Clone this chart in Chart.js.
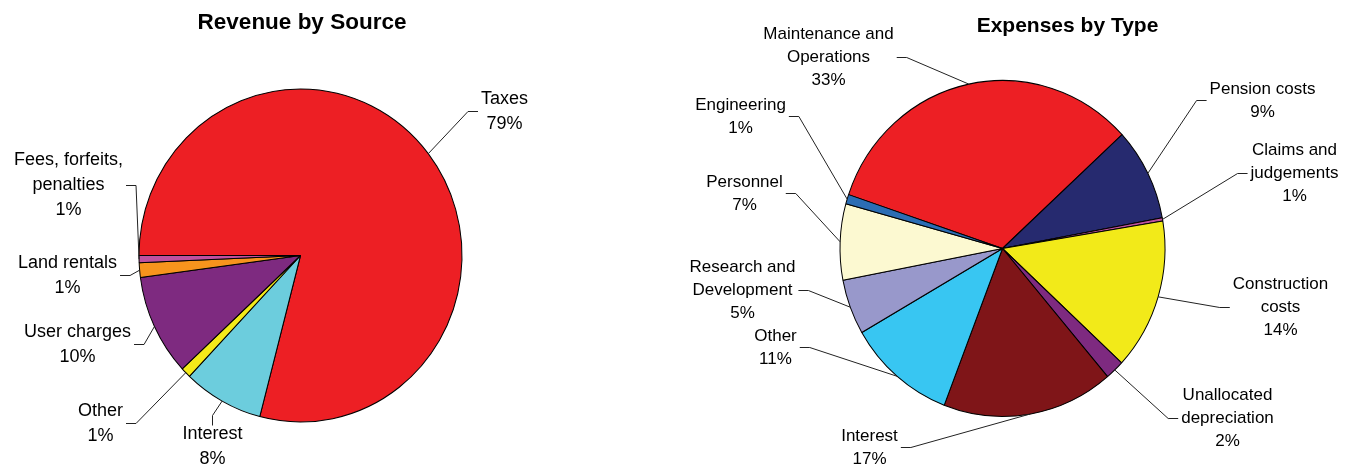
<!DOCTYPE html>
<html lang="en">
<head>
<meta charset="UTF-8">
<title>Revenue and Expenses</title>
<script src="https://cdn.jsdelivr.net/npm/chart.js"></script>
<style>
  body { margin: 0; background: #fff; }
  canvas { position: absolute; top: 0; }
</style>
</head>
<body>
<canvas id="revChart" width="676" height="468" style="left:0"></canvas>
<canvas id="expChart" width="676" height="468" style="left:676px"></canvas>
<script>
// Revenue, clockwise from 9 o'clock
const revenueNames = [["Taxes"], ["Interest"], ["Other"], ["User charges"], ["Land rentals"], ["Fees, forfeits,", "penalties"]];
const revenueValues = [78.9, 8.0, 1.0, 9.8, 1.4, 0.7];
const revenuePct = ["79%", "8%", "1%", "10%", "1%", "1%"];
const revenueColors = ["#ED1F24", "#6CCDDD", "#F4EA1A", "#7E2A80", "#F7941D", "#BF519F"];

// Expenses, clockwise from the Engineering / Maintenance edge
const expenseNames = [["Maintenance and", "Operations"], ["Pension costs"], ["Claims and", "judgements"], ["Construction", "costs"],
  ["Unallocated", "depreciation"], ["Interest"], ["Other"], ["Research and", "Development"], ["Personnel"], ["Engineering"]];
const expenseValues = [32.9, 8.9, 0.3, 14.5, 1.9, 17.0, 10.8, 5.3, 7.3, 0.9];
const expensePct = ["33%", "9%", "1%", "14%", "2%", "17%", "11%", "5%", "7%", "1%"];
const expenseColors = ["#ED1F24", "#262A6F", "#BF519F", "#F2EA19", "#7E2A80", "#7F1518", "#38C6F2", "#9898CB", "#FCF9D1", "#2B6DB4"];

const FONT = '"Liberation Sans", Arial, sans-serif';

// label block centre relative to pie centre, and which side the leader comes in from
const revenueLabelAt = [[204, -144, "r"], [-88, 191, "t"], [-200, 168, "l"], [-223, 89, "l"], [-233, 20, "l"], [-232, -70, "l"]];
const expenseLabelAt = [[-174, -191, "l"], [260, -148, "r"], [292, -75, "r"], [278, 59, "r"], [225, 170, "r"],
  [-133, 199, "l"], [-227, 99, "l"], [-260, 42, "l"], [-258, -55, "l"], [-262, -132, "l"]];

function pieDecor(cfg) {
  return {
    id: "pieDecor",
    beforeDatasetsDraw(chart) {
      // the original pies are a touch taller than wide
      const a = chart.getDatasetMeta(0).data[0];
      const ctx = chart.ctx;
      ctx.save();
      ctx.translate(a.x, a.y);
      ctx.scale(1, cfg.squash);
      ctx.translate(-a.x, -a.y);
    },
    afterDatasetsDraw(chart) {
      const ctx = chart.ctx;
      ctx.restore();
      const arcs = chart.getDatasetMeta(0).data;
      const cx = arcs[0].x, cy = arcs[0].y;
      const lh = cfg.lineH;
      ctx.save();
      ctx.fillStyle = "#000";
      ctx.textAlign = "center";
      ctx.textBaseline = "alphabetic";
      ctx.font = "bold " + cfg.titleSize + "px " + FONT;
      ctx.fillText(cfg.title, cx + cfg.titleAt[0], cy + cfg.titleAt[1]);

      ctx.font = cfg.fontSize + "px " + FONT;
      ctx.textBaseline = "middle";
      ctx.strokeStyle = "#222";
      ctx.lineWidth = 1;
      arcs.forEach((a, i) => {
        const lines = cfg.names[i].concat([cfg.pct[i]]);
        const pos = cfg.labelAt[i];
        const bx = cx + pos[0], by = cy + pos[1];
        const w = Math.max(...lines.map(t => ctx.measureText(t).width));
        const h = lines.length * lh;
        const mid = (a.startAngle + a.endAngle) / 2;
        const ex = cx + a.outerRadius * Math.cos(mid);
        const ey = cy + a.outerRadius * cfg.squash * Math.sin(mid);
        let tx, ty, kx, ky;
        if (pos[2] === "r") { tx = bx - w / 2 - 3; ty = by; kx = tx - 10; ky = ty; }
        else if (pos[2] === "l") { tx = bx + w / 2 + 3; ty = by; kx = tx + 10; ky = ty; }
        else { tx = bx; ty = by - h / 2 + 4; kx = tx; ky = ty - 10; }
        ctx.beginPath();
        ctx.moveTo(ex, ey);
        ctx.lineTo(kx, ky);
        ctx.lineTo(tx, ty);
        ctx.stroke();
        lines.forEach((t, j) => ctx.fillText(t, bx, by - h / 2 + lh * (j + 0.5)));
      });
      ctx.restore();
    }
  };
}

function makePie(id, labels, values, colors, rotation, radius, padding, decor) {
  return new Chart(document.getElementById(id), {
    type: "pie",
    data: {
      labels: labels.map(l => l.join(" ")),
      datasets: [{
        data: values,
        backgroundColor: colors,
        borderColor: "#000",
        borderWidth: 1
      }]
    },
    options: {
      responsive: false,
      animation: false,
      rotation: rotation,
      radius: radius,
      layout: { padding: padding },
      plugins: { legend: { display: false }, tooltip: { enabled: false } },
      events: []
    },
    plugins: [pieDecor(decor)]
  });
}

makePie("revChart", revenueNames, revenueValues, revenueColors, -90, 161.5,
  { left: 0, right: 75, top: 43, bottom: 0 },
  { title: "Revenue by Source", titleAt: [1.5, -227], titleSize: 22.5, fontSize: 18, lineH: 25,
    squash: 1.031, names: revenueNames, pct: revenuePct, labelAt: revenueLabelAt });

makePie("expChart", expenseNames, expenseValues, expenseColors, 288.7, 162.5,
  { left: 0, right: 23, top: 29, bottom: 0 },
  { title: "Expenses by Type", titleAt: [65, -217], titleSize: 21, fontSize: 17, lineH: 23,
    squash: 1.034, names: expenseNames, pct: expensePct, labelAt: expenseLabelAt });
</script>
</body>
</html>
